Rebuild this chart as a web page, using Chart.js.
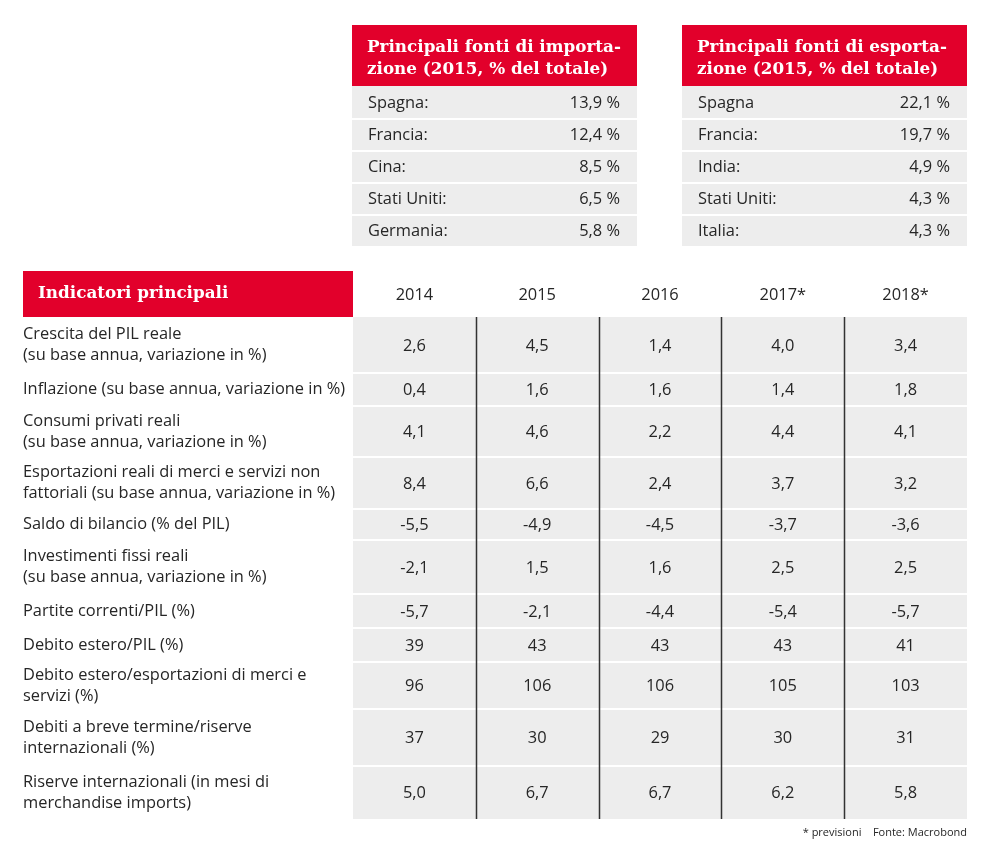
<!DOCTYPE html>
<html lang="it">
<head>
<meta charset="utf-8">
<title>Indicatori principali</title>
<script src="https://cdn.jsdelivr.net/npm/chart.js@4"></script>
<style>
  html, body { margin: 0; padding: 0; background: #fff; }
  #tabella { display: block; }
</style>
</head>
<body>
<canvas id="tabella" width="998" height="859"></canvas>
<script>
// dati
const anni = ['2014', '2015', '2016', '2017*', '2018*'];
const indicatori = [
    ['Crescita del PIL reale', '(su base annua, variazione in %)'],
    ['Inflazione (su base annua, variazione in %)'],
    ['Consumi privati reali', '(su base annua, variazione in %)'],
    ['Esportazioni reali di merci e servizi non', 'fattoriali (su base annua, variazione in %)'],
    ['Saldo di bilancio (% del PIL)'],
    ['Investimenti fissi reali', '(su base annua, variazione in %)'],
    ['Partite correnti/PIL (%)'],
    ['Debito estero/PIL (%)'],
    ['Debito estero/esportazioni di merci e', 'servizi (%)'],
    ['Debiti a breve termine/riserve', 'internazionali (%)'],
    ['Riserve internazionali (in mesi di', 'merchandise imports)']
];
const decimali = [1, 1, 1, 1, 1, 1, 1, 0, 0, 0, 1];
const v2014 = [2.6, 0.4, 4.1, 8.4, -5.5, -2.1, -5.7, 39, 96, 37, 5.0];
const v2015 = [4.5, 1.6, 4.6, 6.6, -4.9, 1.5, -2.1, 43, 106, 30, 6.7];
const v2016 = [1.4, 1.6, 2.2, 2.4, -4.5, 1.6, -4.4, 43, 106, 29, 6.7];
const v2017 = [4.0, 1.4, 4.4, 3.7, -3.7, 2.5, -5.4, 43, 105, 30, 6.2];
const v2018 = [3.4, 1.8, 4.1, 3.2, -3.6, 2.5, -5.7, 41, 103, 31, 5.8];

const importPaesi = ['Spagna:', 'Francia:', 'Cina:', 'Stati Uniti:', 'Germania:'];
const importQuote = [13.9, 12.4, 8.5, 6.5, 5.8];
const exportPaesi = ['Spagna', 'Francia:', 'India:', 'Stati Uniti:', 'Italia:'];
const exportQuote = [22.1, 19.7, 4.9, 4.3, 4.3];

// layout
const ROSSO = '#e2002b';
const GRIGIO = '#ededed';
const TESTO = '#262626';
const SANS = '"Open Sans", "Noto Sans", sans-serif';
const SERIF = '"DejaVu Serif", "Liberation Serif", serif';
const F_TESTO = '16.4px ' + SANS;
const F_TITOLO = 'bold 16.8px ' + SERIF;
const altezzeRighe = [56, 33, 51, 52, 31, 54, 34, 34, 47, 57, 53];

const colonne = [v2014, v2015, v2016, v2017, v2018];
const fmt = (v, d) => v.toFixed(d).replace('.', ',');

const bordi = [0];
altezzeRighe.forEach(h => bordi.push(bordi[bordi.length - 1] + h));

function disegnaFonti(ctx, x0, x1, titolo, paesi, quote) {
    const top = 25, hTitolo = 61, hRiga = 32;
    ctx.fillStyle = ROSSO;
    ctx.fillRect(x0, top, x1 - x0, hTitolo);
    ctx.fillStyle = '#fff';
    ctx.font = F_TITOLO;
    ctx.textAlign = 'left';
    ctx.textBaseline = 'alphabetic';
    ctx.fillText(titolo[0], x0 + 15, top + 27);
    ctx.fillText(titolo[1], x0 + 15, top + 49);

    ctx.font = F_TESTO;
    paesi.forEach((p, i) => {
        const y = top + hTitolo + i * hRiga;
        ctx.fillStyle = GRIGIO;
        ctx.fillRect(x0, y + (i ? 2 : 0), x1 - x0, hRiga - (i ? 2 : 0));
        ctx.fillStyle = TESTO;
        ctx.textBaseline = 'middle';
        ctx.textAlign = 'left';
        ctx.fillText(p, x0 + 16, y + hRiga / 2 + 1);
        ctx.textAlign = 'right';
        ctx.fillText(fmt(quote[i], 1) + ' %', x1 - 17, y + hRiga / 2 + 1);
    });
}

const pluginTabella = {
    id: 'tabella',
    afterDraw(chart) {
        const ctx = chart.ctx;
        const xs = chart.scales.x;
        const ys = chart.scales.y;
        const area = chart.chartArea;
        ctx.save();

        disegnaFonti(ctx, 352, 637, ['Principali fonti di importa-', 'zione (2015, % del totale)'], importPaesi, importQuote);
        disegnaFonti(ctx, 682, 967, ['Principali fonti di esporta-', 'zione (2015, % del totale)'], exportPaesi, exportQuote);

        // intestazione
        ctx.fillStyle = ROSSO;
        ctx.fillRect(23, 271, area.left - 23, area.top - 271);
        ctx.fillStyle = '#fff';
        ctx.font = F_TITOLO;
        ctx.textAlign = 'left';
        ctx.textBaseline = 'middle';
        ctx.fillText('Indicatori principali', 38, 294);

        ctx.fillStyle = TESTO;
        ctx.font = F_TESTO;
        ctx.textAlign = 'center';
        anni.forEach((a, j) => ctx.fillText(a, xs.getPixelForValue(j), 295));

        // celle
        ctx.fillStyle = GRIGIO;
        ctx.fillRect(area.left, area.top, area.right - area.left, area.bottom - area.top);
        ctx.fillStyle = '#fff';
        for (let i = 1; i < altezzeRighe.length; i++) {
            ctx.fillRect(area.left, ys.getPixelForValue(bordi[i]) - 1, area.right - area.left, 2);
        }

        indicatori.forEach((righe, i) => {
            const yc = (ys.getPixelForValue(bordi[i]) + ys.getPixelForValue(bordi[i + 1])) / 2;
            ctx.fillStyle = TESTO;
            ctx.font = F_TESTO;
            ctx.textAlign = 'left';
            righe.forEach((r, k) => {
                ctx.fillText(r, 23, yc + (k - (righe.length - 1) / 2) * 21);
            });
            ctx.textAlign = 'center';
            colonne.forEach((col, j) => {
                ctx.fillText(fmt(col[i], decimali[i]), xs.getPixelForValue(j), yc + 1);
            });
        });

        // separatori verticali
        ctx.strokeStyle = '#333';
        ctx.lineWidth = 1.5;
        for (let j = 1; j < anni.length; j++) {
            const x = Math.round(xs.getPixelForValue(j - 0.5)) + 0.5;
            ctx.beginPath();
            ctx.moveTo(x, area.top);
            ctx.lineTo(x, area.bottom);
            ctx.stroke();
        }

        // note
        ctx.font = '11px ' + SANS;
        ctx.textAlign = 'right';
        ctx.fillStyle = TESTO;
        ctx.fillText('* previsioni    Fonte: Macrobond', area.right, 833);
        ctx.restore();
    }
};

new Chart(document.getElementById('tabella').getContext('2d'), {
    type: 'bar',
    data: { labels: anni, datasets: [] },
    options: {
        responsive: false,
        animation: false,
        devicePixelRatio: 1,
        layout: { padding: { left: 353, right: 31, top: 317, bottom: 40 } },
        plugins: { legend: { display: false }, tooltip: { enabled: false } },
        scales: {
            x: { type: 'category', offset: true, display: false },
            y: { type: 'linear', reverse: true, min: 0, max: bordi[bordi.length - 1], display: false }
        }
    },
    plugins: [pluginTabella]
});
</script>
</body>
</html>
